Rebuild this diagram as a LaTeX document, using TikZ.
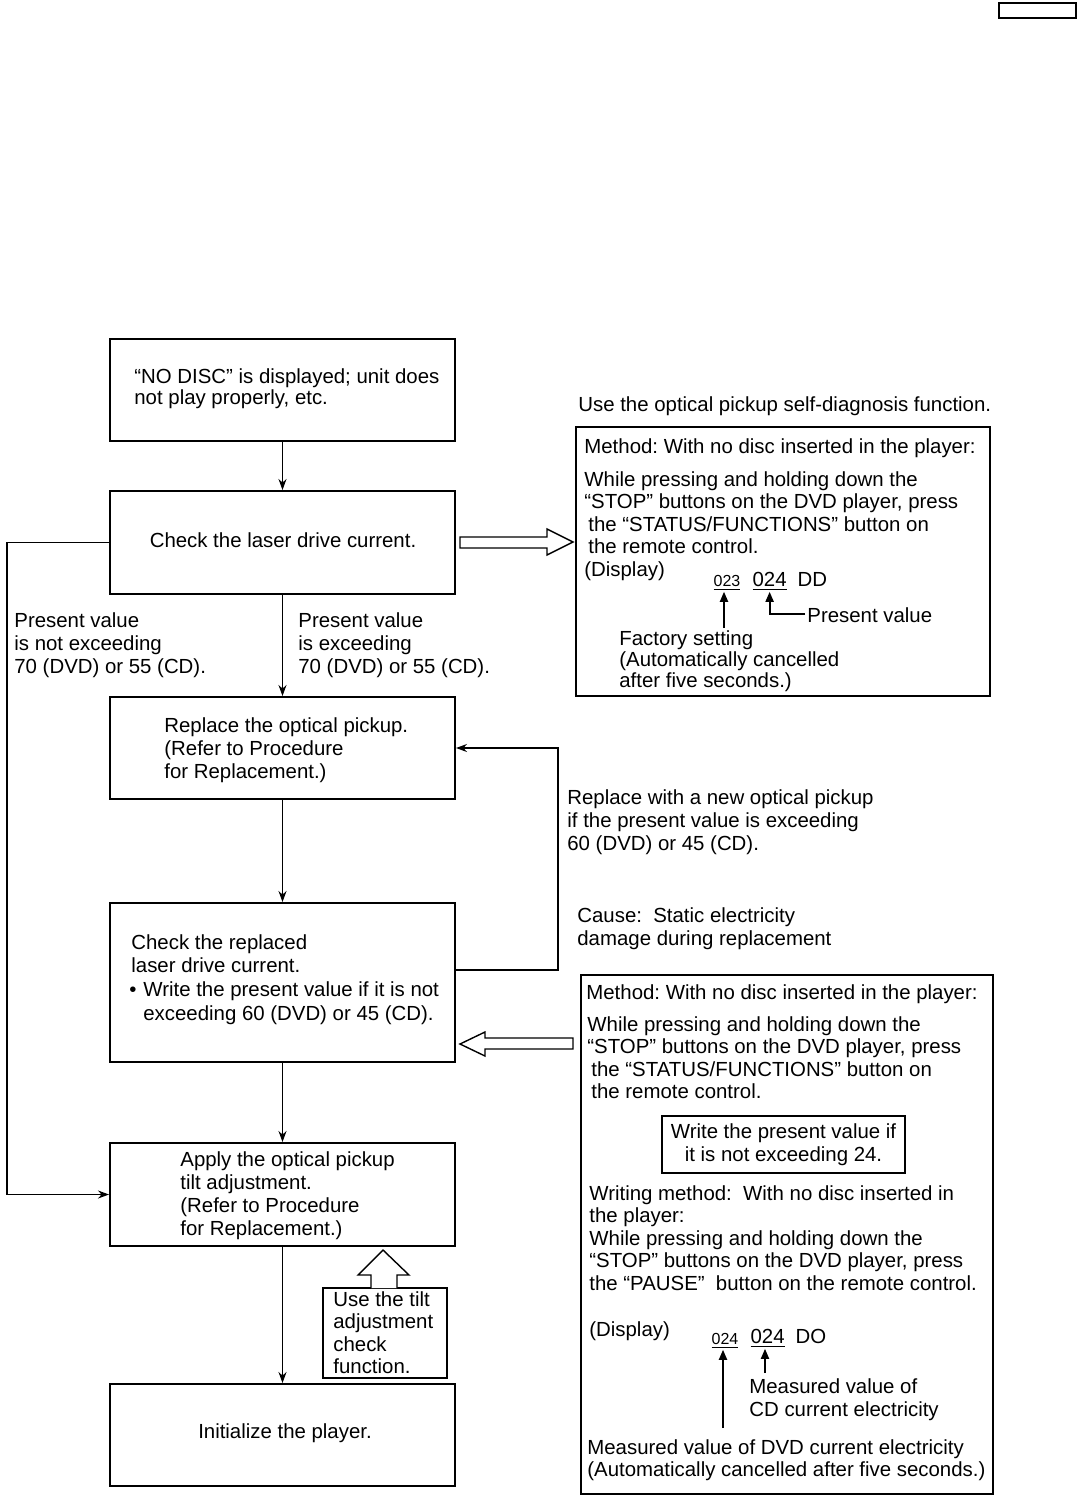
\documentclass[tikz,border=0pt]{standalone}
\usepackage{fontspec}
\setmainfont{Liberation Sans}
\usetikzlibrary{arrows.meta,fit}
\frenchspacing
\begin{document}
\begin{tikzpicture}[x=0.5pt,y=-0.5pt,
  box/.style={draw, line width=1pt, inner sep=0pt},
  txt/.style={inner sep=0pt, anchor=base west, align=left, font=\fontsize{10.2}{11.25}\selectfont},
  ctxt/.style={inner sep=0pt, align=center, font=\fontsize{10.2}{11.25}\selectfont},
  conn/.style={line width=0.6pt, -{Stealth[length=5.5pt,width=4pt]}},
  darrow/.style={line width=0.9pt, -{Triangle[length=5pt,width=4pt]}},
  hollow/.style={draw, line width=0.7pt, fill=white},
  small/.style={inner sep=0.6pt, anchor=base west, font=\fontsize{8}{9}\selectfont},
  big/.style={inner sep=0.6pt, anchor=base west, font=\fontsize{10.2}{11.25}\selectfont},
]
\useasboundingbox (0,0) rectangle (1078,1500);
\node[draw, line width=0.6pt, inner sep=0pt, fit={(999,3) (1076,18)}] (corner) {};

% main flow boxes
\node[box, fit={(110,339) (455,441)}] (b1) {};
\node[box, fit={(110,491) (455,594)}] (b2) {};
\node[box, fit={(110,697) (455,799)}] (b3) {};
\node[box, fit={(110,903) (455,1062)}] (b4) {};
\node[box, fit={(110,1143) (455,1246)}] (b5) {};
\node[box, fit={(110,1384) (455,1486)}] (b6) {};
\node[draw, line width=0.8pt, inner sep=0pt, fit={(323,1288) (447,1378)}] (tilt) {};

% right boxes
\node[draw, line width=1pt, inner sep=0pt, fit={(576,427) (990,696)}] (ra) {};
\node[draw, line width=1.4pt, inner sep=0pt, fit={(581,975) (993,1494)}] (rb) {};
\node[draw, line width=0.9pt, inner sep=0pt, fit={(662,1116) (905,1173)}] (wbox) {};

% connectors
\draw[conn] (b1.south) -- (b2.north);
\draw[conn] (b2.south) -- (b3.north);
\draw[conn] (b3.south) -- (b4.north);
\draw[conn] (b4.south) -- (b5.north);
\draw[conn] (b5.south) -- (b6.north);
\draw[conn] (b2.west) -- ++(-102,0) |- (b5.west);
\draw[conn] ([yshift=6.25pt]b4.east) -- ++(102,0) |- (b3.east);

% hollow arrows
\draw[hollow] (460,537) -- (547,537) -- (547,529) -- (573,542) -- (547,555) -- (547,548) -- (460,548) -- cycle;
\draw[hollow] (573,1038) -- (485,1038) -- (485,1032) -- (460,1044) -- (485,1056) -- (485,1049) -- (573,1049) -- cycle;
\draw[hollow] (371,1288) -- (371,1275) -- (358,1275) -- (383,1250) -- (409,1275) -- (397,1275) -- (397,1288);

% flow texts (anchor = baseline of last line)
\node[txt, font=\fontsize{10.2}{10.5}\selectfont] (t1) at (134,404) {“NO DISC” is displayed; unit does\\not play properly, etc.};
\node[ctxt] (t2) at (283,540) {Check the laser drive current.};
\node[txt, font=\fontsize{10.2}{11.5}\selectfont] (tl) at (14,673) {Present value\\is not exceeding\\70 (DVD) or 55 (CD).};
\node[txt, font=\fontsize{10.2}{11.5}\selectfont] (tr) at (298,673) {Present value\\is exceeding\\70 (DVD) or 55 (CD).};
\node[txt, font=\fontsize{10.2}{11.5}\selectfont] (t3) at (164,778) {Replace the optical pickup.\\(Refer to Procedure\\for Replacement.)};
\node[txt, font=\fontsize{10.2}{11.5}\selectfont] (tnew) at (567,850) {Replace with a new optical pickup\\if the present value is exceeding\\60 (DVD) or 45 (CD).};
\node[txt, font=\fontsize{10.2}{11.5}\selectfont] (tcause) at (577,945) {Cause:\ \ Static electricity\\damage during replacement};
\node[txt, font=\fontsize{10.2}{11.5}\selectfont] (t4) at (131,972) {Check the replaced\\laser drive current.};
\node[txt] (t4b) at (129,996) {•};
\node[txt, font=\fontsize{10.2}{12}\selectfont] (t4c) at (143,1020) {Write the present value if it is not\\exceeding 60 (DVD) or 45 (CD).};
\node[txt, font=\fontsize{10.2}{11.35}\selectfont] (t5) at (180,1235) {Apply the optical pickup\\tilt adjustment.\\(Refer to Procedure\\for Replacement.)};
\node[ctxt] (t6) at (285,1433) {Initialize the player.};
\node[txt, font=\fontsize{10.2}{11.25}\selectfont] (ttilt) at (333,1373.5) {Use the tilt\\adjustment\\check\\function.};

% right box A
\node[txt] (tuse) at (578,411) {Use the optical pickup self-diagnosis function.};
\node[txt] (ta1) at (584,453) {Method: With no disc inserted in the player:};
\node[txt] (ta2) at (584,553.5) {While pressing and holding down the\\“STOP” buttons on the DVD player, press\\\hspace*{2pt}the “STATUS/FUNCTIONS” button on\\\hspace*{2pt}the remote control.};
\node[txt] (ta3) at (584,576) {(Display)};
\node[small] (n023) at (712,586) {\underline{023}};
\node[big] (n024) at (751,586) {\underline{024}};
\node[big] (ndd) at (796,586) {DD};
\node[txt] (tpv) at (807,622) {Present value};
\node[txt, font=\fontsize{10.2}{10.5}\selectfont] (tfs) at (619,687) {Factory setting\\(Automatically cancelled\\after five seconds.)};
\coordinate (fsa) at (724,628);
\coordinate (pva) at (805,614);
\draw[darrow] (fsa) -- (fsa |- n023.south);
\draw[darrow] (pva) -| (n024.south);

% right box B
\node[txt] (tb1) at (586,999) {Method: With no disc inserted in the player:};
\node[txt] (tb2) at (587,1098.5) {While pressing and holding down the\\“STOP” buttons on the DVD player, press\\\hspace*{2pt}the “STATUS/FUNCTIONS” button on\\\hspace*{2pt}the remote control.};
\node[ctxt] (tw) at (wbox.center) {Write the present value if\\it is not exceeding 24.};
\node[txt] (tb3) at (589,1290) {Writing method:\ \ With no disc inserted in\\the player:\\While pressing and holding down the\\“STOP” buttons on the DVD player, press\\the “PAUSE”\ \ button on the remote control.};
\node[txt] (tb4) at (589,1336) {(Display)};
\node[small] (m024a) at (710,1344) {\underline{024}};
\node[big] (m024b) at (749,1343) {\underline{024}};
\node[big] (mdo) at (794,1343) {DO};
\node[txt, font=\fontsize{10.2}{11.5}\selectfont] (tcd) at (749,1416) {Measured value of\\CD current electricity};
\node[txt, font=\fontsize{10.2}{11}\selectfont] (tdvd) at (587,1476) {Measured value of DVD current electricity\\(Automatically cancelled after five seconds.)};
\coordinate (dvda) at (723,1428);
\coordinate (cda) at (765,1373);
\draw[darrow] (dvda) -- (dvda |- m024a.south);
\draw[darrow] (cda) -- (cda |- m024b.south);
\end{tikzpicture}
\end{document}
